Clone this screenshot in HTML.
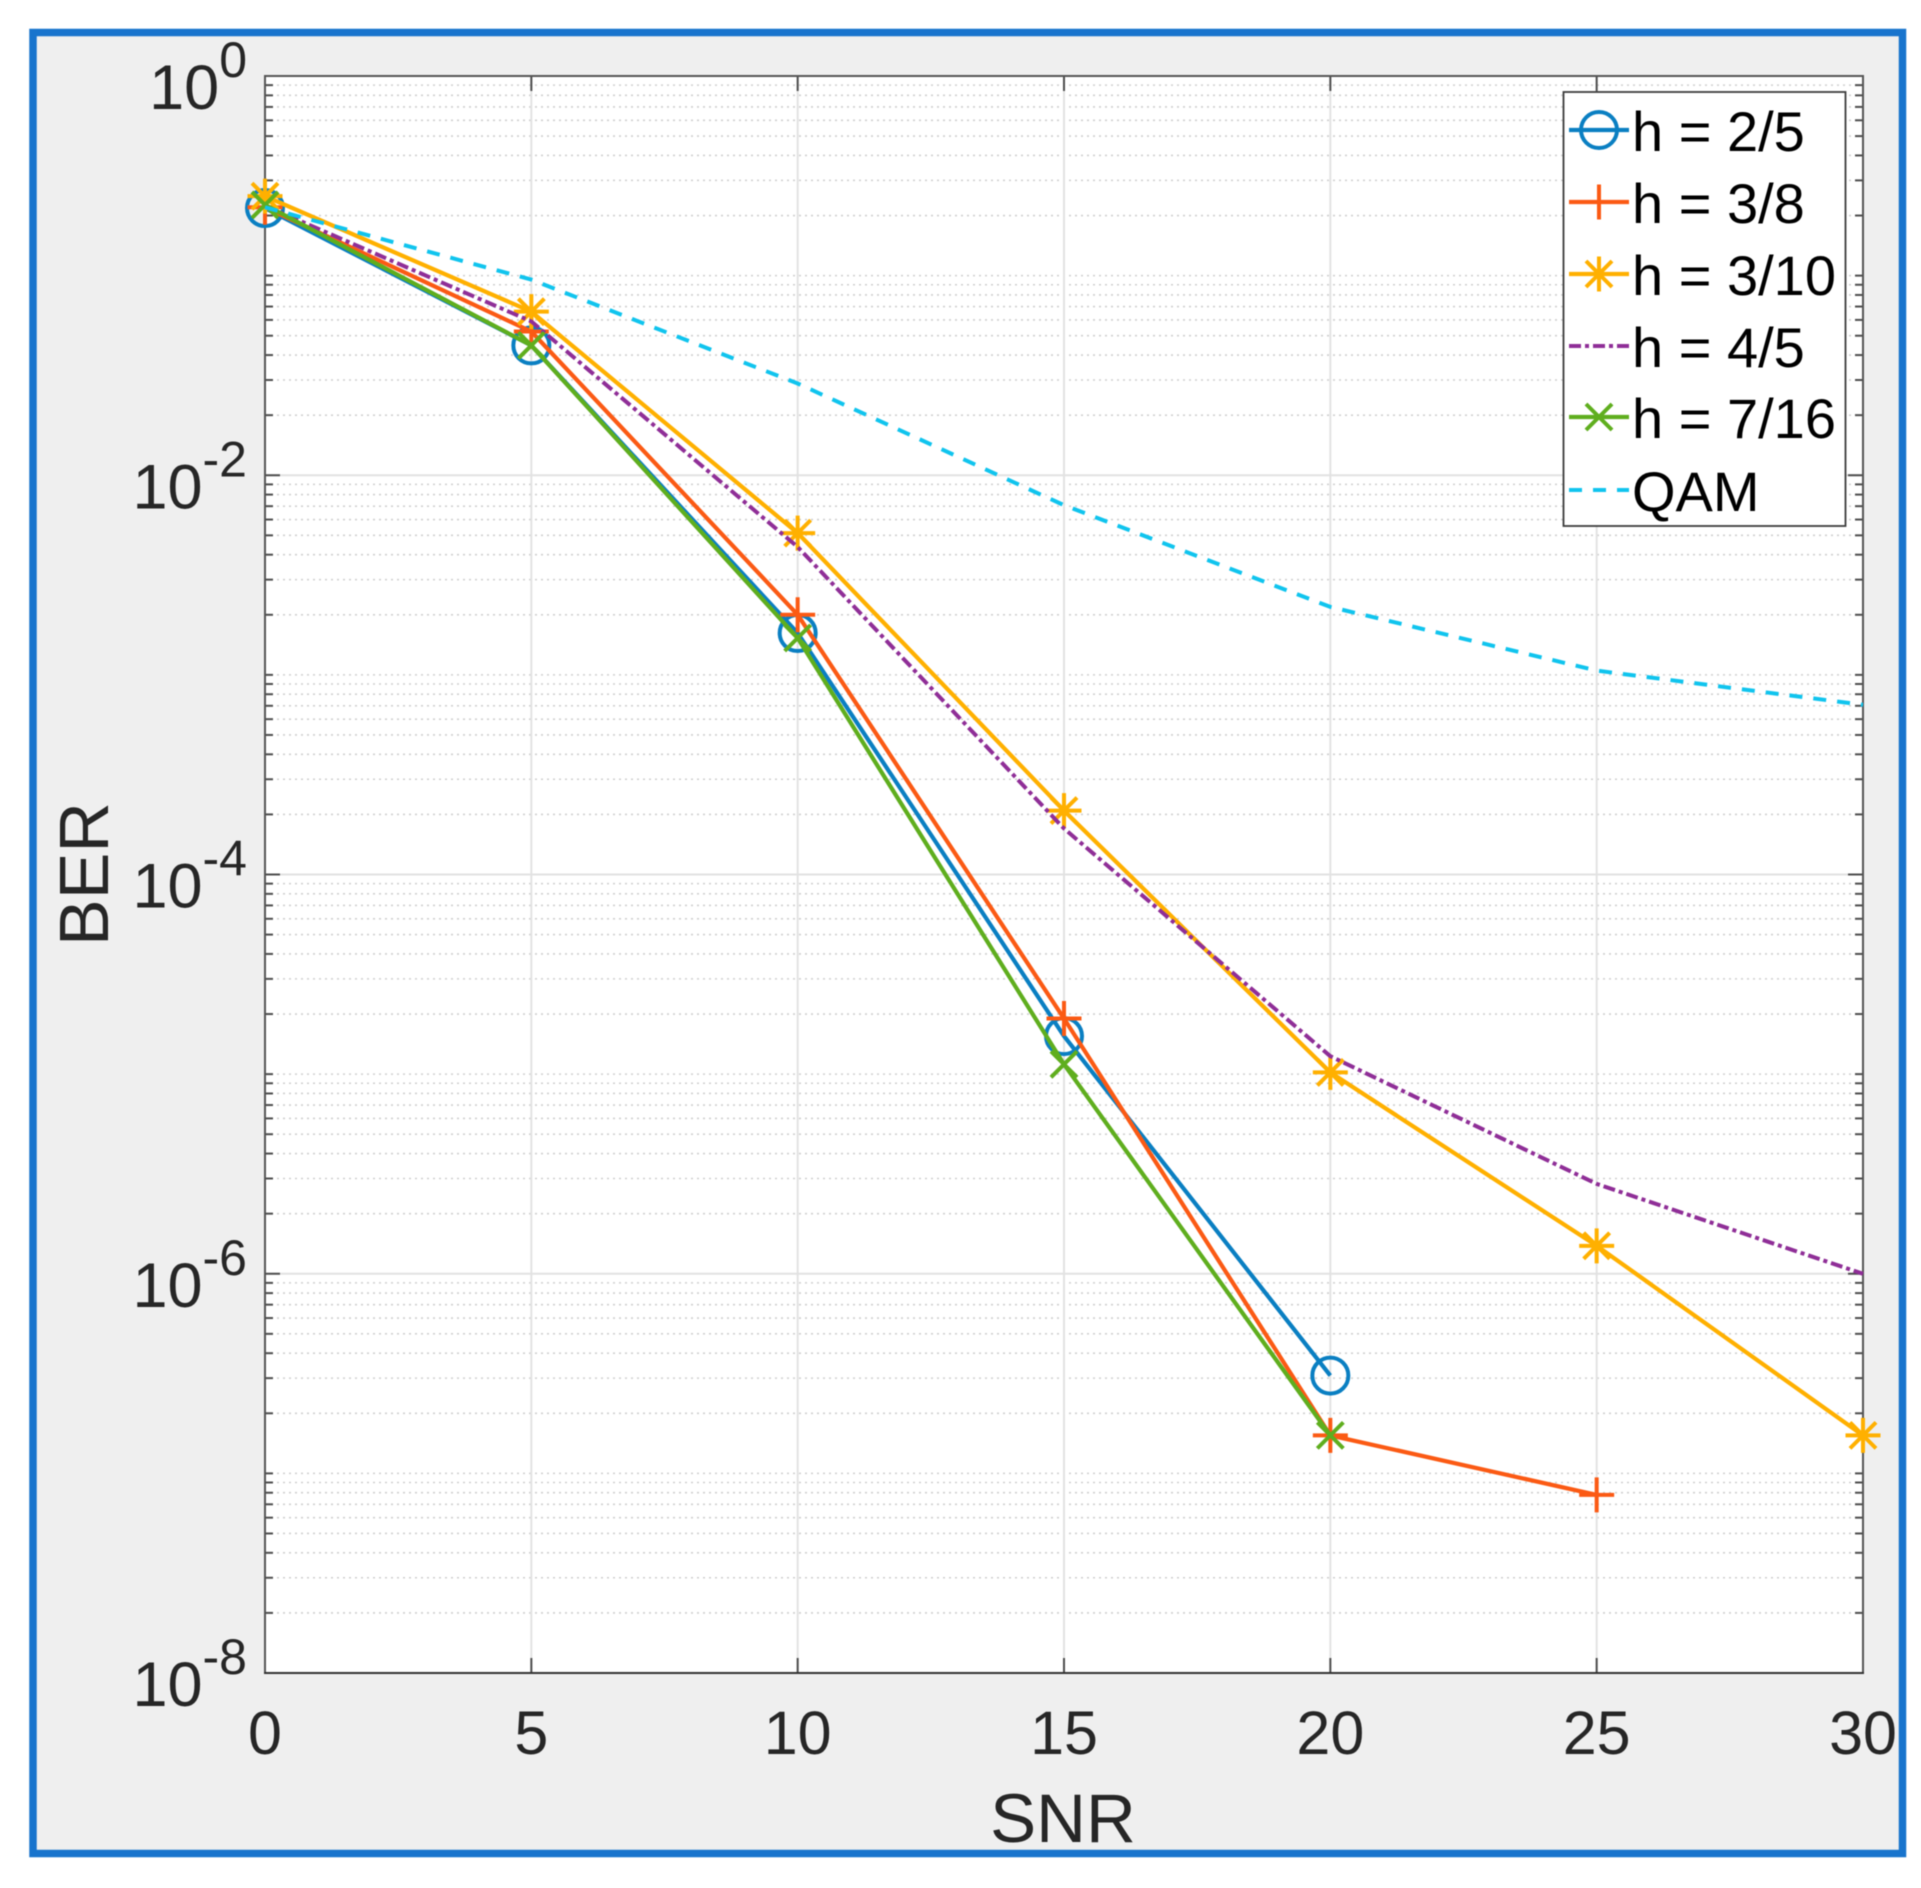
<!DOCTYPE html>
<html lang="en">
<head>
<meta charset="utf-8">
<title>BER vs SNR</title>
<style>
html,body{margin:0;padding:0;background:#fff;}
svg{display:block;font-family:"Liberation Sans",Arial,sans-serif;filter:blur(0.5px);}
</style>
</head>
<body>
<svg id="chart" xmlns="http://www.w3.org/2000/svg" width="1921" height="1888" viewBox="0 0 1921 1888">
  <rect x="33" y="32.5" width="1869.5" height="1821" fill="#efefef" stroke="#1874cd" stroke-width="7.5"/>
  <rect x="265" y="76" width="1598" height="1597" fill="#ffffff"/>
  <g id="grid"></g>
  <g id="axes"></g>
  <g id="series"></g>
  <text x="1063" y="1842" font-size="69" fill="#262626" text-anchor="middle">SNR</text>
  <text transform="translate(108 874) rotate(-90)" font-size="70" fill="#262626" text-anchor="middle">BER</text>
  <g id="legend">
    <rect x="1563.5" y="92" width="282" height="434" fill="#ffffff" stroke="#3c3c3c" stroke-width="1.8"/>
  </g>
</svg>
<script>
var snrValues = [0, 5, 10, 15, 20, 25, 30];
var xTickLabels = ["0", "5", "10", "15", "20", "25", "30"];
var yTickExponents = ["0", "-2", "-4", "-6", "-8"];
var seriesLabels = ["h = 2/5", "h = 3/8", "h = 3/10", "h = 4/5", "h = 7/16", "QAM"];

var berH25 = [0.218, 0.0447, 1.62e-3, 1.55e-5, 3.09e-7];
var berH38 = [0.22, 0.0525, 2.0e-3, 1.9e-5, 1.55e-7, 7.8e-8];
var berH310 = [0.25, 0.066, 5.13e-3, 2.09e-4, 1.02e-5, 1.38e-6, 1.55e-7];
var berH45 = [0.224, 0.059, 4.37e-3, 1.7e-4, 1.23e-5, 2.82e-6, 1.0e-6];
var berH716 = [0.226, 0.0447, 1.53e-3, 1.12e-5, 1.55e-7];
var berQam = [0.22, 0.0955, 0.0288, 7.08e-3, 2.19e-3, 1.05e-3, 7.08e-4];

var SVGNS = "http://www.w3.org/2000/svg";
var plot = {left: 265, right: 1863, top: 76, bottom: 1673};

function xPos(v) { return plot.left + (v - 0) / 30 * (plot.right - plot.left); }
function yPos(v) { return plot.top + (0 - Math.log10(v)) / 8 * (plot.bottom - plot.top); }

function mk(tag, attrs, parent) {
  var e = document.createElementNS(SVGNS, tag);
  for (var k in attrs) e.setAttribute(k, attrs[k]);
  parent.appendChild(e);
  return e;
}

var gridG = document.getElementById("grid");
var axesG = document.getElementById("axes");
var seriesG = document.getElementById("series");
var legendG = document.getElementById("legend");
var el;

/* grid and y ticks: m x 10^d across the -8..0 decades */
for (var d = -1; d >= -8; d--) {
  for (var m = 1; m <= 9; m++) {
    var val = m * Math.pow(10, d);
    var y = yPos(val);
    var major = (m === 1 && d % 2 === 0);
    if (!(m === 1 && d === -8)) {
      el = mk("line", {x1: plot.left, x2: plot.right, y1: y, y2: y,
        stroke: major ? "#e2e2e2" : "#cfcfcf",
        "stroke-width": major ? 2 : 1.6,
        "stroke-dasharray": major ? "none" : "2 4"}, gridG);
      
      
    }
    var len = major ? 15 : 8;
    el = mk("line", {x1: plot.left, x2: plot.left + len, y1: y, y2: y, stroke: "#4d4d4d", "stroke-width": 2}, axesG);
    
    
    el = mk("line", {x1: plot.right - len, x2: plot.right, y1: y, y2: y, stroke: "#4d4d4d", "stroke-width": 2}, axesG);
    
    
  }
}

/* x grid and ticks */
snrValues.forEach(function (v, i) {
  var x = xPos(v);
  var g = mk("line", {x1: x, x2: x, y1: plot.top, y2: plot.bottom, stroke: "#e2e2e2", "stroke-width": 2}, gridG);
  
  
  var t1 = mk("line", {x1: x, x2: x, y1: plot.bottom - 15, y2: plot.bottom, stroke: "#4d4d4d", "stroke-width": 2}, axesG);
  
  
  var t2 = mk("line", {x1: x, x2: x, y1: plot.top, y2: plot.top + 15, stroke: "#4d4d4d", "stroke-width": 2}, axesG);
  
  
  var lab = mk("text", {x: x, y: 1754, "font-size": 61, fill: "#262626", "text-anchor": "middle"}, axesG);
  
  
  lab.textContent = xTickLabels[i];
});

/* axis box */
el = mk("path", {d: "M" + plot.left + " " + plot.bottom + "V" + plot.top + "H" + plot.right + "V" + plot.bottom, fill: "none", stroke: "#555555", "stroke-width": 2}, axesG);


el = mk("line", {x1: plot.left - 1, x2: plot.right + 1, y1: plot.bottom, y2: plot.bottom, stroke: "#333333", "stroke-width": 2}, axesG);



/* y tick labels */
yTickExponents.forEach(function (ex) {
  var y = yPos(Math.pow(10, parseInt(ex, 10)));
  var t = mk("text", {x: 247, y: y + 33, "text-anchor": "end", fill: "#262626"}, axesG);
  
  
  var a = mk("tspan", {"font-size": 63}, t);
  a.textContent = "10";
  var b = mk("tspan", {"font-size": 50, dy: -32}, t);
  b.textContent = ex;
});

/* marker drawing */
function drawMarker(kind, cx, cy, color, parent) {
  var w = 4, p = 17.5, q = 13, mm;
  if (kind === "circle") {
    mm = mk("circle", {cx: cx, cy: cy, r: 18, fill: "none", stroke: color, "stroke-width": w}, parent);
    return mm;
  }
  var d = "";
  if (kind === "plus" || kind === "star") d += "M" + (cx - p) + " " + cy + "H" + (cx + p) + "M" + cx + " " + (cy - p) + "V" + (cy + p);
  if (kind === "cross" || kind === "star") d += "M" + (cx - q) + " " + (cy - q) + "L" + (cx + q) + " " + (cy + q) + "M" + (cx - q) + " " + (cy + q) + "L" + (cx + q) + " " + (cy - q);
  mm = mk("path", {d: d, fill: "none", stroke: color, "stroke-width": w}, parent);
  return mm;
}

var seriesData = [berH25, berH38, berH310, berH45, berH716, berQam];
var seriesColors = ["#0a7fc2", "#fb5a14", "#ffb000", "#8f2e97", "#5fae1e", "#10c4ee"];
var seriesMarkers = ["circle", "plus", "star", "", "cross", ""];
var seriesDash = ["none", "none", "none", "12 4 4 4", "none", "13 11"];
var seriesWidth = [4.2, 4.2, 4.2, 4, 4.2, 4];
var legendRows = [130, 202, 274, 346, 417, 490];

seriesData.forEach(function (vals, i) {
  var g = mk("g", {}, seriesG);
  
  
  var pts = vals.map(function (v, j) { return xPos(snrValues[j]).toFixed(1) + "," + yPos(v).toFixed(1); }).join(" ");
  var line = mk("polyline", {points: pts, fill: "none", stroke: seriesColors[i], "stroke-width": seriesWidth[i], "stroke-dasharray": seriesDash[i], "stroke-linejoin": "round"}, g);
  
  
  if (seriesMarkers[i]) {
    vals.forEach(function (v, j) {
      var mark = drawMarker(seriesMarkers[i], xPos(snrValues[j]), yPos(v), seriesColors[i], g);
      
      
    });
  }

  /* legend entry */
  var row = legendRows[i];
  var lg = mk("g", {}, legendG);
  
  
  var sw = mk("line", {x1: 1569, x2: 1629, y1: row, y2: row, stroke: seriesColors[i], "stroke-width": seriesWidth[i], "stroke-dasharray": seriesDash[i]}, lg);
  
  
  if (seriesMarkers[i]) {
    var lm = drawMarker(seriesMarkers[i], 1599, row, seriesColors[i], lg);
    
    
  }
  var tx = mk("text", {x: 1632, y: row + 21, "font-size": 56, fill: "#000000"}, lg);
  
  
  tx.textContent = seriesLabels[i];
});
</script>
</body>
</html>
